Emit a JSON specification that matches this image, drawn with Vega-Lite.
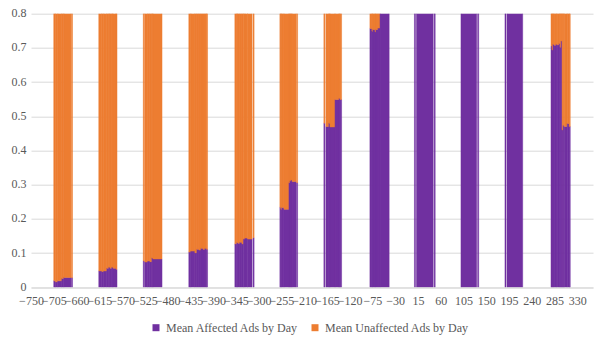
{
  "$schema": "https://vega.github.io/schema/vega-lite/v6.json",
  "width": 562,
  "height": 273.6,
  "autosize": "none",
  "padding": {"left": 31, "top": 13.7, "right": 12, "bottom": 52.7},
  "background": "white",
  "config": {"view": {"stroke": null}, "font": "Liberation Serif, DejaVu Serif, serif"},
  "data": {
    "values": [
      {"start": -705, "end": -702, "affected": 0.019, "unaffected": 0.981},
      {"start": -702, "end": -697, "affected": 0.016, "unaffected": 0.984},
      {"start": -697, "end": -689, "affected": 0.019, "unaffected": 0.981},
      {"start": -689, "end": -685, "affected": 0.026, "unaffected": 0.974},
      {"start": -685, "end": -671, "affected": 0.029, "unaffected": 0.971},
      {"start": -670, "end": -668, "affected": 0.028, "unaffected": 0.972},
      {"start": -616, "end": -610, "affected": 0.048, "unaffected": 0.952},
      {"start": -610, "end": -606, "affected": 0.046, "unaffected": 0.954},
      {"start": -606, "end": -600, "affected": 0.048, "unaffected": 0.952},
      {"start": -600, "end": -596, "affected": 0.056, "unaffected": 0.944},
      {"start": -596, "end": -594, "affected": 0.059, "unaffected": 0.941},
      {"start": -594, "end": -590, "affected": 0.056, "unaffected": 0.944},
      {"start": -590, "end": -588, "affected": 0.059, "unaffected": 0.941},
      {"start": -588, "end": -582, "affected": 0.056, "unaffected": 0.944},
      {"start": -582, "end": -580, "affected": 0.053, "unaffected": 0.947},
      {"start": -528, "end": -526, "affected": 0.077, "unaffected": 0.923},
      {"start": -525, "end": -519, "affected": 0.074, "unaffected": 0.926},
      {"start": -519, "end": -515, "affected": 0.077, "unaffected": 0.923},
      {"start": -515, "end": -511, "affected": 0.075, "unaffected": 0.925},
      {"start": -511, "end": -509, "affected": 0.086, "unaffected": 0.914},
      {"start": -509, "end": -491, "affected": 0.083, "unaffected": 0.917},
      {"start": -438, "end": -434, "affected": 0.103, "unaffected": 0.897},
      {"start": -434, "end": -426, "affected": 0.106, "unaffected": 0.894},
      {"start": -426, "end": -422, "affected": 0.101, "unaffected": 0.899},
      {"start": -422, "end": -418, "affected": 0.111, "unaffected": 0.889},
      {"start": -418, "end": -414, "affected": 0.109, "unaffected": 0.891},
      {"start": -414, "end": -410, "affected": 0.114, "unaffected": 0.886},
      {"start": -410, "end": -406, "affected": 0.111, "unaffected": 0.889},
      {"start": -406, "end": -403, "affected": 0.114, "unaffected": 0.886},
      {"start": -403, "end": -401, "affected": 0.111, "unaffected": 0.889},
      {"start": -347, "end": -343, "affected": 0.127, "unaffected": 0.873},
      {"start": -343, "end": -341, "affected": 0.131, "unaffected": 0.869},
      {"start": -341, "end": -337, "affected": 0.129, "unaffected": 0.871},
      {"start": -337, "end": -333, "affected": 0.132, "unaffected": 0.868},
      {"start": -333, "end": -330, "affected": 0.127, "unaffected": 0.873},
      {"start": -330, "end": -327, "affected": 0.141, "unaffected": 0.859},
      {"start": -327, "end": -322, "affected": 0.144, "unaffected": 0.856},
      {"start": -322, "end": -313, "affected": 0.141, "unaffected": 0.859},
      {"start": -311, "end": -309, "affected": 0.145, "unaffected": 0.855},
      {"start": -258, "end": -256, "affected": 0.234, "unaffected": 0.766},
      {"start": -256, "end": -254, "affected": 0.228, "unaffected": 0.772},
      {"start": -254, "end": -250, "affected": 0.233, "unaffected": 0.767},
      {"start": -250, "end": -240, "affected": 0.228, "unaffected": 0.772},
      {"start": -240, "end": -238, "affected": 0.306, "unaffected": 0.694},
      {"start": -238, "end": -236, "affected": 0.311, "unaffected": 0.689},
      {"start": -236, "end": -234, "affected": 0.314, "unaffected": 0.686},
      {"start": -234, "end": -226, "affected": 0.309, "unaffected": 0.691},
      {"start": -225, "end": -223, "affected": 0.306, "unaffected": 0.694},
      {"start": -171, "end": -169, "affected": 0.48, "unaffected": 0.52},
      {"start": -167, "end": -161, "affected": 0.47, "unaffected": 0.53},
      {"start": -161, "end": -159, "affected": 0.48, "unaffected": 0.52},
      {"start": -159, "end": -149, "affected": 0.469, "unaffected": 0.531},
      {"start": -149, "end": -141, "affected": 0.549, "unaffected": 0.451},
      {"start": -141, "end": -139, "affected": 0.553, "unaffected": 0.447},
      {"start": -139, "end": -136, "affected": 0.549, "unaffected": 0.451},
      {"start": -80, "end": -76, "affected": 0.757, "unaffected": 0.243},
      {"start": -76, "end": -74, "affected": 0.749, "unaffected": 0.251},
      {"start": -74, "end": -70, "affected": 0.754, "unaffected": 0.246},
      {"start": -70, "end": -68, "affected": 0.747, "unaffected": 0.253},
      {"start": -68, "end": -64, "affected": 0.754, "unaffected": 0.246},
      {"start": -64, "end": -60, "affected": 0.758, "unaffected": 0.242},
      {"start": -60, "end": -42, "affected": 0.86, "unaffected": 0.14},
      {"start": 8, "end": 10, "affected": 0.9, "unaffected": 0.1},
      {"start": 12, "end": 45, "affected": 0.9, "unaffected": 0.1},
      {"start": 47, "end": 49, "affected": 0.9, "unaffected": 0.1},
      {"start": 100, "end": 131, "affected": 0.9, "unaffected": 0.1},
      {"start": 133, "end": 135, "affected": 0.9, "unaffected": 0.1},
      {"start": 187, "end": 189, "affected": 0.9, "unaffected": 0.1},
      {"start": 191, "end": 222, "affected": 0.9, "unaffected": 0.1},
      {"start": 278, "end": 280, "affected": 0.706, "unaffected": 0.294},
      {"start": 280, "end": 282, "affected": 0.694, "unaffected": 0.306},
      {"start": 282, "end": 284, "affected": 0.711, "unaffected": 0.289},
      {"start": 284, "end": 288, "affected": 0.708, "unaffected": 0.292},
      {"start": 288, "end": 290, "affected": 0.711, "unaffected": 0.289},
      {"start": 290, "end": 294, "affected": 0.709, "unaffected": 0.291},
      {"start": 294, "end": 296, "affected": 0.713, "unaffected": 0.287},
      {"start": 296, "end": 298, "affected": 0.702, "unaffected": 0.298},
      {"start": 298, "end": 300, "affected": 0.72, "unaffected": 0.28},
      {"start": 300, "end": 302, "affected": 0.46, "unaffected": 0.54},
      {"start": 302, "end": 304, "affected": 0.474, "unaffected": 0.526},
      {"start": 304, "end": 310, "affected": 0.47, "unaffected": 0.53},
      {"start": 310, "end": 314, "affected": 0.479, "unaffected": 0.521},
      {"start": 314, "end": 316, "affected": 0.47, "unaffected": 0.53}
    ]
  },
  "transform": [
    {"fold": ["affected", "unaffected"], "as": ["series", "value"]},
    {"stack": "value", "groupby": ["start"], "sort": [{"field": "series", "order": "ascending"}], "as": ["y0", "y1"]}
  ],
  "mark": {"type": "bar", "clip": true, "strokeWidth": 0.5},
  "encoding": {
    "x": {
      "field": "start",
      "type": "quantitative",
      "scale": {"domain": [-750, 361], "nice": false, "zero": false},
      "axis": {
        "values": [-750, -705, -660, -615, -570, -525, -480, -435, -390, -345, -300, -255, -210, -165, -120, -75, -30, 15, 60, 105, 150, 195, 240, 285, 330],
        "title": null,
        "grid": false,
        "ticks": false,
        "domainColor": "#d9d9d9",
        "labelFont": "Liberation Serif, DejaVu Serif, serif",
        "labelFontSize": 12,
        "labelColor": "#595959",
        "labelPadding": 8,
        "labelOverlap": false,
        "labelFlush": false,
        "format": "d"
      }
    },
    "x2": {"field": "end"},
    "y": {
      "field": "y0",
      "type": "quantitative",
      "scale": {"domain": [0, 0.8], "nice": false},
      "axis": {
        "values": [0, 0.1, 0.2, 0.3, 0.4, 0.5, 0.6, 0.7, 0.8],
        "title": null,
        "domain": false,
        "ticks": false,
        "gridColor": "#d9d9d9",
        "labelFont": "Liberation Serif, DejaVu Serif, serif",
        "labelFontSize": 12,
        "labelColor": "#595959",
        "labelPadding": 5,
        "labelOffset": -1,
        "format": "~g"
      }
    },
    "y2": {"field": "y1"},
    "stroke": {
      "field": "series",
      "type": "nominal",
      "scale": {"domain": ["affected", "unaffected"], "range": ["#7030A0", "#ED7D31"]},
      "legend": null
    },
    "color": {
      "field": "series",
      "type": "nominal",
      "scale": {"domain": ["affected", "unaffected"], "range": ["#7030A0", "#ED7D31"]},
      "legend": {
        "title": null,
        "orient": "none",
        "legendX": 119,
        "legendY": 308,
        "direction": "horizontal",
        "symbolType": "square",
        "symbolSize": 49,
        "symbolStrokeWidth": 0,
        "labelFont": "Liberation Serif, DejaVu Serif, serif",
        "labelFontSize": 12,
        "labelColor": "#595959",
        "labelOffset": 4,
        "columnPadding": 10,
        "padding": 0,
        "labelLimit": 300,
        "labelExpr": "datum.label == 'affected' ? 'Mean Affected Ads by Day' : 'Mean Unaffected Ads by Day'"
      }
    }
  }
}
